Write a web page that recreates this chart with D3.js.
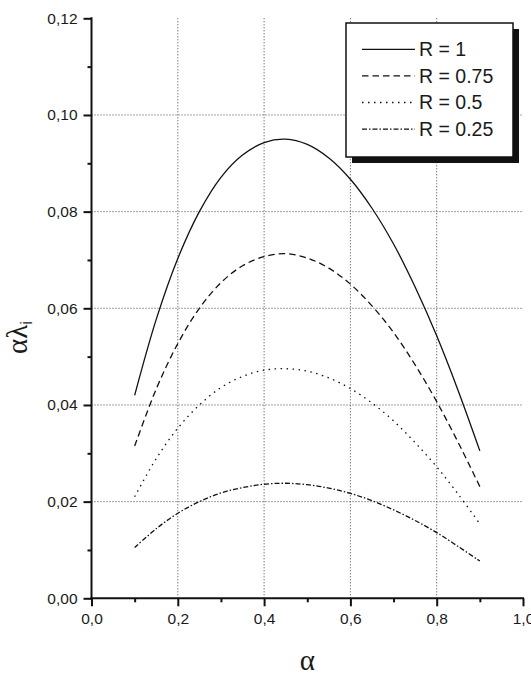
<!DOCTYPE html>
<html>
<head>
<meta charset="utf-8">
<script src="https://cdn.jsdelivr.net/npm/d3@7/dist/d3.min.js"></script>
<style>
  html, body { margin: 0; padding: 0; background: #fff; }
  svg { display: block; }
  text { font-family: "Liberation Sans", Arial, sans-serif; fill: #1a1a1a; }
</style>
</head>
<body>
<svg id="chart" width="531" height="675"></svg>
<script>
// ---- data ----
const alpha = [0.1, 0.15, 0.2, 0.25, 0.3, 0.35, 0.4, 0.45, 0.5, 0.55, 0.6, 0.65, 0.7, 0.75, 0.8, 0.85, 0.9];
const r100 = [0.0420, 0.0577, 0.0703, 0.0800, 0.0871, 0.0917, 0.0943, 0.0950, 0.0939, 0.0911, 0.0867, 0.0807, 0.0733, 0.0644, 0.0543, 0.0429, 0.0305];
const r075 = [0.0315, 0.0433, 0.0527, 0.0600, 0.0653, 0.0688, 0.0707, 0.0713, 0.0704, 0.0683, 0.0650, 0.0605, 0.0550, 0.0483, 0.0407, 0.0322, 0.0231];
const r050 = [0.0210, 0.0289, 0.0352, 0.0400, 0.0436, 0.0459, 0.0472, 0.0475, 0.0470, 0.0456, 0.0434, 0.0404, 0.0367, 0.0322, 0.0272, 0.0215, 0.0154];
const r025 = [0.0105, 0.0144, 0.0176, 0.0200, 0.0218, 0.0229, 0.0236, 0.0238, 0.0235, 0.0228, 0.0217, 0.0202, 0.0183, 0.0161, 0.0136, 0.0107, 0.0077];
const seriesNames = ["R = 1", "R = 0.75", "R = 0.5", "R = 0.25"];
const xTicks = [0, 0.2, 0.4, 0.6, 0.8, 1.0];
const xMinorTicks = [0.1, 0.3, 0.5, 0.7, 0.9];
const yTicks = [0, 0.02, 0.04, 0.06, 0.08, 0.10, 0.12];
const yMinorTicks = [0.01, 0.03, 0.05, 0.07, 0.09, 0.11];

const dashes = [null, "6.5,4", "1.5,4.5", "5,2,1.5,2"];
const seriesVals = [r100, r075, r050, r025];

const svg = d3.select("#chart");
const x = d3.scaleLinear().domain([0, 1]).range([91.5, 523]);
const y = d3.scaleLinear().domain([0, 0.12]).range([598.3, 18.3]);
const fmt = (d, n) => d.toFixed(n).replace(".", ",");

// grid
const grid = svg.append("g").attr("stroke", "#444").attr("stroke-width", 1).attr("stroke-dasharray", "1,2");
grid.selectAll("line.h").data(yTicks.slice(1, -1)).join("line")
  .attr("x1", x(0)).attr("x2", x(1)).attr("y1", d => y(d)).attr("y2", d => y(d));
grid.selectAll("line.v").data(xTicks.slice(1, -1)).join("line")
  .attr("y1", y(0)).attr("y2", y(0.12)).attr("x1", d => x(d)).attr("x2", d => x(d));

// curves
const line = d3.line().x(d => x(d[0])).y(d => y(d[1])).curve(d3.curveCatmullRom);
seriesVals.forEach((vals, i) => {
  svg.append("path")
    .datum(alpha.map((a, j) => [a, vals[j]]))
    .attr("d", line)
    .attr("fill", "none")
    .attr("stroke", "#111")
    .attr("stroke-width", 1.3)
    .attr("stroke-dasharray", dashes[i]);
});

// legend
const lg = svg.append("g");
const lx = 346, ly = 23, lw = 167, lh = 134;
lg.append("rect").attr("x", lx + 6).attr("y", ly + 6).attr("width", lw).attr("height", lh).attr("fill", "#111");
lg.append("rect").attr("x", lx).attr("y", ly).attr("width", lw).attr("height", lh)
  .attr("fill", "#fff").attr("stroke", "#111").attr("stroke-width", 1.5);
seriesNames.forEach((name, i) => {
  const cy = 49.3 + i * 26.6;
  lg.append("line").attr("x1", 362).attr("x2", 415).attr("y1", cy).attr("y2", cy)
    .attr("stroke", "#111").attr("stroke-width", 1.3).attr("stroke-dasharray", dashes[i]);
  lg.append("text").attr("x", 419).attr("y", cy + 6.8).style("font-size", "19.5px").text(name);
});

// axes
const xAxis = svg.append("g").attr("transform", `translate(0,${y(0)})`)
  .call(d3.axisBottom(x).tickValues(xTicks).tickSize(8).tickPadding(6.4).tickFormat(d => fmt(d, 1)));
const xMinor = svg.append("g").attr("transform", `translate(0,${y(0)})`)
  .call(d3.axisBottom(x).tickValues(xMinorTicks).tickSize(4).tickFormat(""));
const yAxis = svg.append("g").attr("transform", `translate(${x(0)},0)`)
  .call(d3.axisLeft(y).tickValues(yTicks).tickSize(8).tickPadding(6).tickFormat(d => fmt(d, 2)));
const yMinor = svg.append("g").attr("transform", `translate(${x(0)},0)`)
  .call(d3.axisLeft(y).tickValues(yMinorTicks).tickSize(4).tickFormat(""));
[xAxis, xMinor, yAxis, yMinor].forEach(g => {
  g.attr("font-size", null).attr("font-family", null);
  g.select(".domain").remove();
  g.selectAll(".tick line").attr("stroke", "#111").attr("stroke-width", 2);
  g.selectAll(".tick text").style("font-size", "15.5px").style("fill", "#1a1a1a")
    .style("font-family", '"Liberation Sans", Arial, sans-serif');
});
svg.append("line").attr("x1", x(0) - 1).attr("x2", x(1) + 1).attr("y1", y(0)).attr("y2", y(0))
  .attr("stroke", "#111").attr("stroke-width", 2);
svg.append("line").attr("x1", x(0)).attr("x2", x(0)).attr("y1", y(0) + 1).attr("y2", y(0.12) - 1)
  .attr("stroke", "#111").attr("stroke-width", 2);

// axis titles
svg.append("text").attr("x", (x(0) + x(1)) / 2).attr("y", 670).attr("text-anchor", "middle")
  .style("font-family", '"Liberation Serif", "DejaVu Serif", serif').style("font-size", "29px").text("α");
const yt = svg.append("text").attr("transform", "translate(27,354) rotate(-90)")
  .style("font-family", '"Liberation Serif", "DejaVu Serif", serif').style("font-size", "29px");
yt.append("tspan").text("αλ");
yt.append("tspan").style("font-size", "17px").attr("dy", 5).style("font-family", '"Liberation Sans", Arial, sans-serif').text("i");
</script>
</body>
</html>
